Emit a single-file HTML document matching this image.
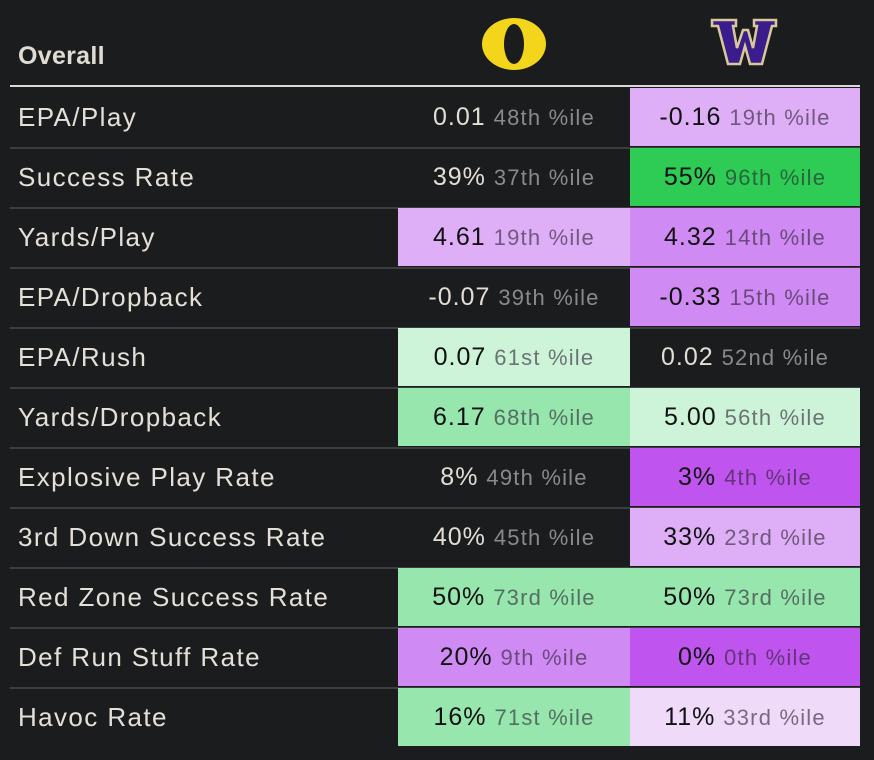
<!DOCTYPE html>
<html><head><meta charset="utf-8"><style>
body{margin:0;width:874px;height:760px;background:#1b1c1e;font-family:"Liberation Sans",sans-serif;overflow:hidden;position:relative}
.hdr{position:absolute;left:18px;top:42px;font-size:25px;font-weight:bold;color:#e0dcd4;letter-spacing:0.3px}
.hline{position:absolute;left:10px;top:85px;width:850px;height:2px;background:#ddd8d0}
.row{position:absolute;left:10px;width:850px;height:60px}
.row .sep{position:absolute;left:0;bottom:-1px;width:850px;height:2px;background:#3c3d40}
.lbl{position:absolute;left:8px;top:0;line-height:58px;font-size:26px;color:#e4e0d8;letter-spacing:1.4px}
.cell{position:absolute;top:0;height:58px;line-height:58px;text-align:center;font-size:25px;color:#e2ded6;letter-spacing:1px;white-space:nowrap}
.cell .p{font-size:22px;color:#8a8a8a;letter-spacing:1.2px}
.cell.c{color:#111}
.cell.c .p{color:rgba(40,30,45,0.6)}
.c1{left:388px;width:232px}.c2{left:620px;width:230px}
</style></head><body>
<div class="hdr">Overall</div>
<svg style="position:absolute;left:481px;top:16px" width="66" height="56"><ellipse cx="33" cy="28" rx="32" ry="26" fill="#f3d51b"/><ellipse cx="33" cy="28" rx="10" ry="20" fill="#1b1c1e"/></svg>
<svg style="position:absolute;left:710px;top:18px" width="70" height="50"><polygon points="2,2 26,2 26,8 23,8 27,30 33,12 38,12 43,30 47,8 44,8 44,2 66,2 66,8 62,8 52,46 40,46 35,28 30,46 18,46 8,8 2,8" fill="#3b1c8c" stroke="#d8c89a" stroke-width="2.5" stroke-linejoin="miter"/></svg>
<div class="hline"></div>
<div id="tbl"></div>
<script>
const labels=["EPA/Play","Success Rate","Yards/Play","EPA/Dropback","EPA/Rush","Yards/Dropback","Explosive Play Rate","3rd Down Success Rate","Red Zone Success Rate","Def Run Stuff Rate","Havoc Rate"];
const oVals=["0.01","39%","4.61","-0.07","0.07","6.17","8%","40%","50%","20%","16%"];
const oPct=["48th","37th","19th","39th","61st","68th","49th","45th","73rd","9th","71st"];
const oCol=["","","#deaef6","","#cdf3d9","#96e6ae","","","#96e6ae","#cf8bf3","#96e6ae"];
const wVals=["-0.16","55%","4.32","-0.33","0.02","5.00","3%","33%","50%","0%","11%"];
const wPct=["19th","96th","14th","15th","52nd","56th","4th","23rd","73rd","0th","33rd"];
const wCol=["#deaef6","#2ecc55","#cf8bf3","#cf8bf3","","#cdf3d9","#bf55ee","#deaef6","#96e6ae","#bf55ee","#efdaf9"];
const t=document.getElementById('tbl');
labels.forEach((l,i)=>{
 const r=document.createElement('div');r.className='row';r.style.top=(88+i*60)+'px';
 
 
 let h='<div class="lbl">'+l+'</div>';
 [[oVals,oPct,oCol,'c1','oregon'],[wVals,wPct,wCol,'c2','washington']].forEach(([v,p,c,cls,n])=>{
  h+='<div class="cell '+cls+(c[i]?' c':'')+'" style="background:'+(c[i]||'transparent')+'">'+v[i]+' <span class="p">'+p[i]+' %ile</span></div>';
 });
 if(i<labels.length-1) h+='<div class="sep"></div>';
 r.innerHTML=h;t.appendChild(r);
});
</script>
</body></html>
